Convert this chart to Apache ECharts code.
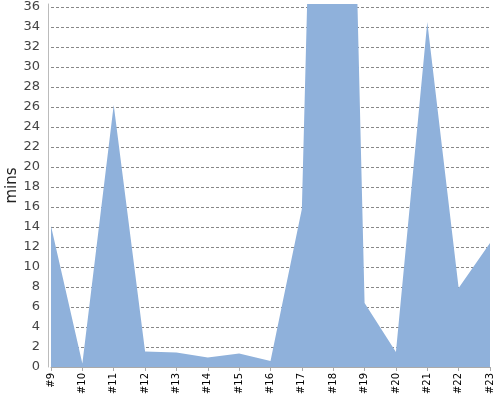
<!DOCTYPE html>
<html><head><meta charset="utf-8">
<script src="https://cdn.jsdelivr.net/npm/echarts@6/dist/echarts.min.js"></script>
<style>html,body{margin:0;padding:0;background:#fff}#c{width:500px;height:400px}</style>
</head><body><div id="c"></div>
<script>
var categories = ['#9','#10','#11','#12','#13','#14','#15','#16','#17','#18','#19','#20','#21','#22','#23'];
var minsValues = [14.1, 0.35, 26.2, 1.55, 1.45, 0.95, 1.35, 0.6, 15.8, 138, 6.4, 1.5, 34.5, 7.9, 12.4];
var yAxisName = 'mins';

var chart = echarts.init(document.getElementById('c'));
chart.setOption({
  animation: false,
  grid: {left: 51, right: 10, top: 4, bottom: 33, containLabel: false, outerBoundsMode: 'none'},
  xAxis: {
    type: 'category',
    data: categories,
    boundaryGap: false,
    axisLine: {lineStyle: {color: '#aaaaaa', width: 1}},
    axisTick: {show: true, length: 4, lineStyle: {color: '#aaaaaa'}, alignWithLabel: true},
    axisLabel: {rotate: 90, fontSize: 10, color: '#000', fontFamily: 'DejaVu Sans', margin: 6, interval: 0},
    splitLine: {show: false}
  },
  yAxis: {
    type: 'value',
    min: 0,
    max: 36.3,
    interval: 2,
    offset: 3,
    name: yAxisName,
    nameLocation: 'middle',
    nameGap: 28,
    nameMoveOverlap: false,
    nameRotate: 90,
    nameTextStyle: {fontSize: 15, color: '#222', fontFamily: 'DejaVu Sans'},
    axisLine: {show: true, lineStyle: {color: '#bbbbbb', width: 1}},
    axisTick: {show: false},
    axisLabel: {fontSize: 13, color: '#444', fontFamily: 'DejaVu Sans', showMaxLabel: false, margin: 8},
    splitLine: {show: true, showMaxLine: false, showMinLine: false, lineStyle: {color: '#888888', type: [3, 2], width: 1}}
  },
  series: [{
    type: 'line',
    data: minsValues,
    showSymbol: false,
    symbol: 'none',
    lineStyle: {width: 0, color: '#8fb1db'},
    itemStyle: {color: '#8fb1db'},
    areaStyle: {color: '#8fb1db', opacity: 1},
    clip: true,
    z: 1
  }]
});
</script>
</body></html>
